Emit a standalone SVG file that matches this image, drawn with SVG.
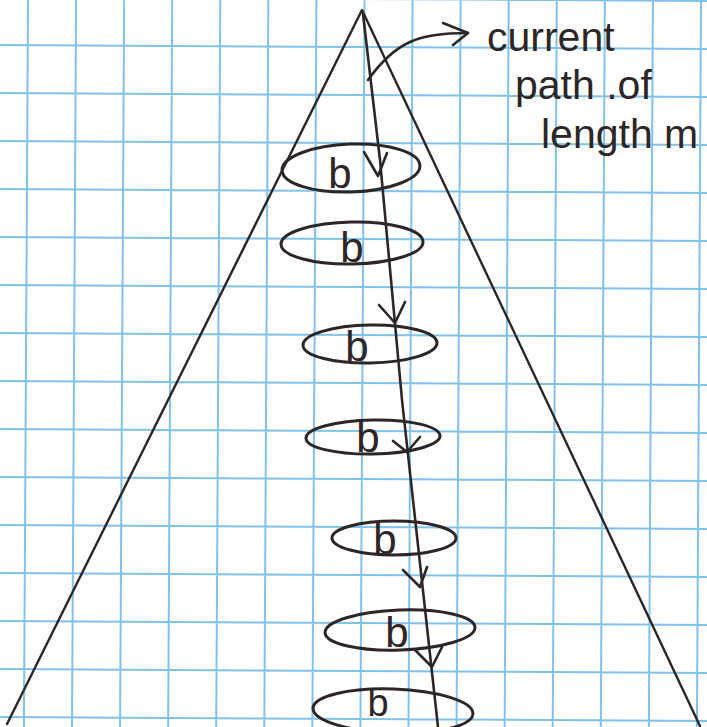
<svg xmlns="http://www.w3.org/2000/svg" width="707" height="727" viewBox="0 0 707 727">
<style>
.grid{stroke:#80c2ea;stroke-width:2;fill:none}
.ink{stroke:#2e2626;fill:none;stroke-linecap:round;stroke-linejoin:round}
.leg{stroke-width:2.4}
.loop{stroke-width:3}
.arr{stroke-width:2.6}
.lbl{font-family:"Liberation Sans",Arial,sans-serif;fill:#2e2626}
.b{font-size:42px;text-anchor:middle}
.note{font-size:41px}
</style>
<rect width="707" height="727" fill="#ffffff"/>
<g id="grid" transform="rotate(0.32)">
<path class="grid" d="M-20.07 -30V780M28 -30V780M76.07 -30V780M124.14 -30V780M172.21 -30V780M220.28 -30V780M268.35 -30V780M316.42 -30V780M364.49 -30V780M412.56 -30V780M460.63 -30V780M508.7 -30V780M556.77 -30V780M604.84 -30V780M652.91 -30V780M700.98 -30V780M749.05 -30V780
M-30 -3H760M-30 45H760M-30 93H760M-30 141H760M-30 189H760M-30 237H760M-30 285H760M-30 333H760M-30 381H760M-30 429H760M-30 477H760M-30 525H760M-30 573H760M-30 621H760M-30 669H760M-30 717H760M-30 765H760"/>
</g>
<g id="tree">
<path class="ink leg" d="M7 724L362 10L700 726"/>
</g>
<g id="node-b1">
<ellipse class="ink loop" cx="351" cy="168" rx="69" ry="24" transform="rotate(-2 351 168)"/>
<text class="lbl b" x="340" y="188">b</text>
</g>
<g id="node-b2">
<ellipse class="ink loop" cx="352" cy="243" rx="71" ry="21" transform="rotate(-1 352 243)"/>
<text class="lbl b" x="352" y="262">b</text>
</g>
<g id="node-b3">
<ellipse class="ink loop" cx="370" cy="344" rx="67" ry="19" transform="rotate(-1 370 344)"/>
<text class="lbl b" x="357" y="361">b</text>
</g>
<g id="node-b4">
<ellipse class="ink loop" cx="373" cy="437" rx="67" ry="17" transform="rotate(-1 373 437)"/>
<text class="lbl b" x="368" y="452">b</text>
</g>
<g id="node-b5">
<ellipse class="ink loop" cx="394" cy="538" rx="62" ry="17"/>
<text class="lbl b" x="385" y="554">b</text>
</g>
<g id="node-b6">
<ellipse class="ink loop" cx="400" cy="630" rx="75" ry="20" transform="rotate(-2 400 630)"/>
<text class="lbl b" x="397" y="647">b</text>
</g>
<g id="node-b7">
<ellipse class="ink loop" cx="393" cy="711" rx="80" ry="22" transform="rotate(2 393 711)"/>
<text class="lbl b" x="378" y="716" style="font-size:38px">b</text>
</g>
<g id="connectors">
<path class="ink arr" d="M363 14L380 160L402 400L438 727"/>
<path class="ink arr" d="M364 152L378 176L387 153"/>
<path class="ink arr" d="M379 305L395 323L405 302"/>
<path class="ink arr" d="M393 441L407 452L420 437"/>
<path class="ink arr" d="M403 570L420 587L427 567"/>
<path class="ink arr" d="M415 650L432 667L442 647"/>
<path class="ink arr" d="M368 80C378 66 392 50 410 42C425 35 445 33 468 33"/>
<path class="ink arr" d="M443 23L468 33L453 45"/>
</g>
<g id="label">
<text class="lbl note" x="487" y="51">current</text>
<text class="lbl note" x="515" y="99">path .of</text>
<text class="lbl note" x="541" y="148">length m</text>
</g>
</svg>
